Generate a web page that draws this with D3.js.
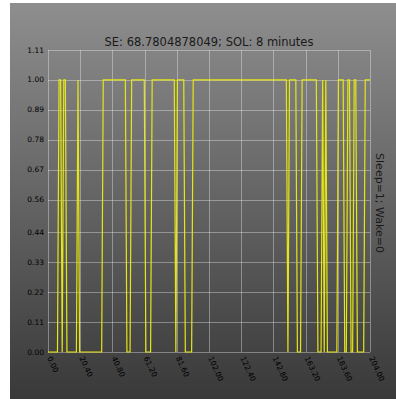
<!DOCTYPE html>
<html>
<head>
<meta charset="utf-8">
<script src="https://d3js.org/d3.v7.min.js"></script>
<style>
  body { margin: 0; background: #fff; }
  text { font-family: "DejaVu Sans", sans-serif; }
</style>
</head>
<body>
<svg width="396" height="399"></svg>

<script>
// sleep/wake state per epoch (1 = sleep, 0 = wake), epochs 0..204
var sleep_state = [
  0,0,0,0,0,0,0,1,1,0,
  1,1,0,0,0,0,0,0,0,1,
  0,0,0,0,0,0,0,0,0,0,
  0,0,0,0,0,1,1,1,1,1,
  1,1,1,1,1,1,1,1,1,1,
  0,0,0,1,1,1,1,1,1,1,
  1,1,0,0,0,0,1,1,1,1,
  1,1,1,1,1,1,1,1,1,1,
  1,0,1,1,1,1,1,0,0,0,
  0,0,1,1,1,1,1,1,1,1,
  1,1,1,1,1,1,1,1,1,1,
  1,1,1,1,1,1,1,1,1,1,
  1,1,1,1,1,1,1,1,1,1,
  1,1,1,1,1,1,1,1,1,1,
  1,1,1,1,1,1,1,1,1,1,
  1,1,0,1,1,1,1,1,0,0,
  0,1,1,1,1,1,1,1,1,1,
  1,0,0,0,1,0,1,0,0,0,
  0,0,0,0,1,1,1,1,0,0,
  1,1,0,0,1,1,0,0,0,0,
  0,1,1,1,1
];

var x_ticks = [0, 20.4, 40.8, 61.2, 81.6, 102, 122.4, 142.8, 163.2, 183.6, 204];
var x_labels = ["0.00", "20.40", "40.80", "61.20", "81.60", "102.00", "122.40", "142.80", "163.20", "183.60", "204.00"];
var y_labels = ["0.00", "0.11", "0.22", "0.33", "0.44", "0.56", "0.67", "0.78", "0.89", "1.00", "1.11"];

var title = "SE: 68.7804878049; SOL: 8 minutes";
var y_title = "Sleep=1; Wake=0";

// plot box (window.top is reserved, so use own names)
var plot_left = 48, plot_right = 370, plot_top = 50, plot_bottom = 352;

var svg = d3.select("svg");

// grey gradient background
var grad = svg.append("defs").append("linearGradient")
    .attr("id", "bg").attr("x1", 0).attr("y1", 0).attr("x2", 0).attr("y2", 1);
grad.append("stop").attr("offset", "0%").attr("stop-color", "#8e8e8e");
grad.append("stop").attr("offset", "100%").attr("stop-color", "#393939");

svg.append("rect")
    .attr("x", 10).attr("y", 3)
    .attr("width", 386).attr("height", 396)
    .style("fill", "url(#bg)");

var x = d3.scaleLinear().domain([0, 204]).range([plot_left, plot_right]);
var y = d3.scaleLinear().domain([0, 1.11]).range([plot_bottom, plot_top]);

var y_ticks = y_labels.map(function(d) { return +d; });
y_ticks[y_ticks.length - 1] = 1.11;

// grid
svg.selectAll("line.vgrid")
    .data(x_ticks)
  .enter().append("line")
    .attr("x1", function(d) { return Math.round(x(d)) + 0.5; })
    .attr("x2", function(d) { return Math.round(x(d)) + 0.5; })
    .attr("y1", plot_top).attr("y2", plot_bottom)
    .style("stroke", "rgba(255,255,255,0.35)")
    .style("stroke-width", 1);

svg.selectAll("line.hgrid")
    .data(y_ticks)
  .enter().append("line")
    .attr("x1", plot_left).attr("x2", plot_right)
    .attr("y1", function(d) { return Math.round(y(d)) + 0.5; })
    .attr("y2", function(d) { return Math.round(y(d)) + 0.5; })
    .style("stroke", "rgba(255,255,255,0.35)")
    .style("stroke-width", 1);

// y tick labels
svg.selectAll("text.ylab")
    .data(y_ticks)
  .enter().append("text")
    .attr("x", plot_left - 4)
    .attr("y", function(d) { return y(d) + 2.5; })
    .attr("text-anchor", "end")
    .style("font-size", "7.5px")
    .style("fill", "#000")
    .text(function(d, i) { return y_labels[i]; });

// x tick labels, rotated
svg.selectAll("text.xlab")
    .data(x_ticks)
  .enter().append("text")
    .attr("transform", function(d) { return "translate(" + (x(d) - 1) + "," + (plot_bottom + 6) + ") rotate(65)"; })
    .attr("text-anchor", "start")
    .style("font-size", "7.5px")
    .style("fill", "#000")
    .text(function(d, i) { return x_labels[i]; });

// sleep line
var line = d3.line()
    .x(function(d, i) { return x(i); })
    .y(function(d) { return y(d); });

svg.append("path")
    .datum(sleep_state)
    .attr("d", line)
    .style("fill", "none")
    .style("stroke", "#e6e614")
    .style("stroke-width", 1.2);

// title and side label
svg.append("text")
    .attr("x", 209).attr("y", 46)
    .attr("text-anchor", "middle")
    .style("font-size", "11.5px")
    .style("fill", "#1a1a1a")
    .text(title);

svg.append("text")
    .attr("transform", "translate(376,203) rotate(90)")
    .attr("text-anchor", "middle")
    .style("font-size", "11px")
    .style("fill", "#1a1a1a")
    .text(y_title);
</script>
</body>
</html>
